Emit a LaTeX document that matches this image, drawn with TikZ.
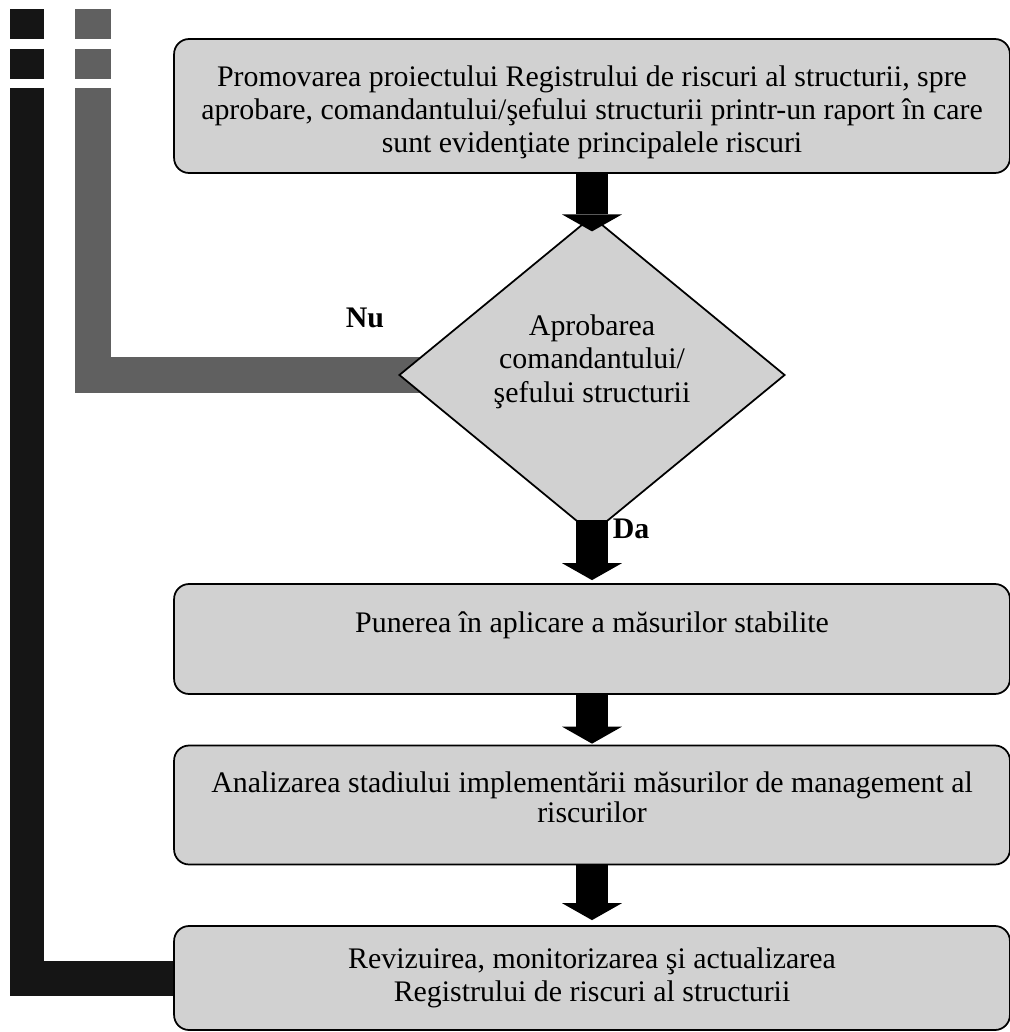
\documentclass[tikz,border=0pt]{standalone}
\usepackage{fontspec}
\setmainfont{Liberation Serif}
\usetikzlibrary{shapes.geometric, arrows.meta, backgrounds}
\definecolor{boxgray}{RGB}{209,209,209}
\definecolor{loopgrey}{RGB}{96,96,96}
\definecolor{loopblack}{RGB}{21,21,21}

\begin{document}
\begin{tikzpicture}[x=0.02cm, y=-0.02cm,
    every node/.style={font=\fontsize{17}{19}\selectfont},
    stepbox/.style={draw=black, line width=1pt, fill=boxgray, rounded corners=0.3cm,
        align=center, minimum width=16.72cm},
    decision/.style={diamond, draw=black, line width=1pt, fill=boxgray, align=center,
        inner sep=0pt, minimum width=7.72cm, minimum height=6.28cm},
    flowarrow/.style={line width=0.64cm, -{Triangle[width=1.2cm, length=0.34cm, line width=0pt]}},
    loopbar/.style={line width=#1, dash pattern=on 0.6cm off 0.2cm on 0.6cm off 0.18cm on 40cm off 1cm}]
    \useasboundingbox (0,0) rectangle (1010,1032);

    % Define nodes
    \node[stepbox, minimum height=2.68cm] (promo) at (592,106)
        {\mbox{}\\
         Promovarea proiectului Registrului de riscuri al structurii, spre\\
         aprobare, comandantului/şefului structurii printr-un raport în care\\
         sunt evidenţiate principalele riscuri};

    \node[decision] (aprob) at (592,375)
        {Aprobarea\\comandantului/\\şefului structurii\\\mbox{}};

    \node[stepbox, minimum height=2.2cm] (punere) at (592,639)
        {Punerea în aplicare a măsurilor stabilite\\\mbox{}};

    \node[stepbox, minimum height=2.38cm] (analiza) at (592,805)
        {Analizarea stadiului implementării măsurilor de management al\\[-2pt]riscurilor\\[-10pt]\mbox{}};

    \node[stepbox, minimum height=2.08cm] (revizuire) at (592,978)
        {Revizuirea, monitorizarea şi actualizarea\\Registrului de riscuri al structurii};

    \node (nu) at (365,318) {\textbf{Nu}};
    \node (da) at (631,529) {\textbf{Da}};

    \coordinate (nutop) at (93,9);
    \coordinate (looptop) at (27,9);

    % Draw edges
    \draw[flowarrow, shorten >=-0.32cm] (promo.south) -- (aprob.north);
    \draw[flowarrow, shorten <=-0.3cm, shorten >=0.06cm] (aprob.south) -- (punere.north);
    \draw[flowarrow, shorten >=0.02cm] (punere.south) -- (analiza.north);
    \draw[flowarrow, shorten >=0.1cm] (analiza.south) -- (revizuire.north);

    \begin{scope}[on background layer]
    \draw[loopbar=0.72cm, loopgrey] (nutop) -- (nutop |- aprob.center) -- (aprob.center);
    \draw[loopbar=0.7cm, loopblack] (looptop) -- (looptop |- revizuire.center) -- (revizuire.center);
    \end{scope}
\end{tikzpicture}
\end{document}
